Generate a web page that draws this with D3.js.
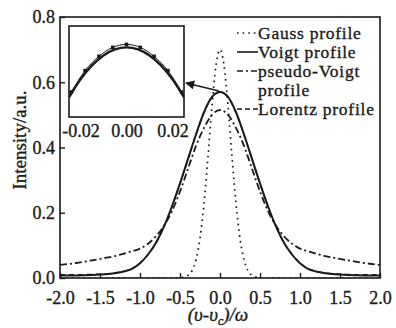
<!DOCTYPE html>
<html>
<head>
<meta charset="utf-8">
<script src="https://cdn.jsdelivr.net/npm/d3@7/dist/d3.min.js"></script>
<style>
  html, body { margin: 0; padding: 0; background: #fff; }
  svg { display: block; }
  text { font-family: "Liberation Serif", "Times New Roman", serif; fill: #1a1a1a; stroke: #1a1a1a; stroke-width: 0.35px; }
</style>
</head>
<body>
<svg id="chart" width="396" height="328"></svg>
<script>
// profiles
var xGrid = [-2.0, -1.8, -1.6, -1.4, -1.3, -1.2, -1.1, -1.0, -0.9, -0.8, -0.7, -0.6, -0.5, -0.4, -0.3, -0.2, -0.1, 0.0,
  0.1, 0.2, 0.3, 0.4, 0.5, 0.6, 0.7, 0.8, 0.9, 1.0, 1.1, 1.2, 1.3, 1.4, 1.6, 1.8, 2.0];
var voigt = [0.008, 0.008, 0.009, 0.012, 0.015, 0.020, 0.028, 0.045, 0.072, 0.108, 0.158, 0.220, 0.290, 0.365, 0.440, 0.508, 0.555, 0.570,
  0.555, 0.508, 0.440, 0.365, 0.290, 0.220, 0.158, 0.108, 0.072, 0.045, 0.028, 0.020, 0.015, 0.012, 0.009, 0.008, 0.008];
var pseudoVoigt = [0.040, 0.046, 0.054, 0.063, 0.068, 0.075, 0.082, 0.090, 0.105, 0.128, 0.160, 0.205, 0.265, 0.335, 0.405, 0.460, 0.500, 0.515,
  0.500, 0.460, 0.405, 0.335, 0.265, 0.205, 0.160, 0.128, 0.105, 0.090, 0.082, 0.075, 0.068, 0.063, 0.054, 0.046, 0.040];
var lorentz = [0.010, 0.010, 0.011, 0.013, 0.016, 0.021, 0.029, 0.046, 0.072, 0.107, 0.157, 0.219, 0.289, 0.364, 0.440, 0.507, 0.554, 0.569,
  0.554, 0.507, 0.440, 0.364, 0.289, 0.219, 0.157, 0.107, 0.072, 0.046, 0.029, 0.021, 0.016, 0.013, 0.011, 0.010, 0.010];
var gaussX = [-2.0, -1.0, -0.6, -0.5, -0.45, -0.4, -0.35, -0.3, -0.25, -0.2, -0.15, -0.1, -0.05, 0.0,
  0.05, 0.1, 0.15, 0.2, 0.25, 0.3, 0.35, 0.4, 0.45, 0.5, 0.6, 1.0, 2.0];
var gauss = [0.0, 0.0, 0.0, 0.001, 0.003, 0.008, 0.022, 0.056, 0.121, 0.228, 0.372, 0.528, 0.652, 0.700,
  0.652, 0.528, 0.372, 0.228, 0.121, 0.056, 0.022, 0.008, 0.003, 0.001, 0.0, 0.0, 0.0];

// inset: zoom on the peak
var insetX = [-0.025, -0.020, -0.015, -0.010, -0.005, 0.0, 0.005, 0.010, 0.015, 0.020, 0.025];
var insetVoigt = [0.5672, 0.56821, 0.56899, 0.56955, 0.56989, 0.5700, 0.56989, 0.56955, 0.56899, 0.56821, 0.5672];
var insetFitX = [-0.024, -0.018, -0.012, -0.006, 0.0, 0.006, 0.012, 0.018, 0.024];
var insetFit = [0.5675, 0.5687, 0.5695, 0.5700, 0.57017, 0.5700, 0.5695, 0.5687, 0.5675];

var xTicks = [-2.0, -1.5, -1.0, -0.5, 0.0, 0.5, 1.0, 1.5, 2.0];
var yTicks = [0.0, 0.2, 0.4, 0.6, 0.8];
var insetTicks = [-0.02, 0.0, 0.02];

var legendNames = ['Gauss profile', 'Voigt profile', 'pseudo-Voigt', 'Lorentz profile'];

var ink = '#1a1a1a';
var svg = d3.select('#chart');

var x = d3.scaleLinear().domain([-2, 2]).range([60, 380]);
var y = d3.scaleLinear().domain([0, 0.8]).range([278, 17]);

svg.append('defs').append('clipPath').attr('id', 'plotclip')
  .append('rect').attr('x', 60).attr('y', 17).attr('width', 320).attr('height', 261);

var line = function(xs){
  return d3.line()
    .x(function(d, i){ return x(xs[i]); })
    .y(function(d){ return y(d); })
    .curve(d3.curveMonotoneX);
};

var plot = svg.append('g').attr('clip-path', 'url(#plotclip)');

plot.append('path').datum(lorentz).attr('d', line(xGrid))
  .attr('fill', 'none').attr('stroke', ink).attr('stroke-width', 1.4).attr('stroke-dasharray', '5,4');
plot.append('path').datum(pseudoVoigt).attr('d', line(xGrid))
  .attr('fill', 'none').attr('stroke', ink).attr('stroke-width', 1.8).attr('stroke-dasharray', '7,3,2,3');
plot.append('path').datum(gauss).attr('d', line(gaussX))
  .attr('fill', 'none').attr('stroke', ink).attr('stroke-width', 1.7).attr('stroke-dasharray', '1.6,4.2');
plot.append('path').datum(voigt).attr('d', line(xGrid))
  .attr('fill', 'none').attr('stroke', ink).attr('stroke-width', 2);

// axes
var xAxis = d3.axisBottom(x).tickValues(xTicks)
  .tickFormat(function(d){ return d.toFixed(1); })
  .tickSizeInner(-5).tickSizeOuter(0).tickPadding(13);
var yAxis = d3.axisLeft(y).tickValues(yTicks)
  .tickFormat(function(d){ return d.toFixed(1); })
  .tickSizeInner(-5).tickSizeOuter(0).tickPadding(5);

var gx = svg.append('g').attr('transform', 'translate(0,278)').call(xAxis);
var gy = svg.append('g').attr('transform', 'translate(60,0)').call(yAxis);
[gx, gy].forEach(function(g){
  g.select('.domain').remove();
  g.selectAll('.tick line').attr('stroke', ink).attr('stroke-width', 1.4);
  g.selectAll('.tick text').attr('fill', ink).style('font-size', '18px')
    .style('font-family', '"Liberation Serif", serif');
});

svg.append('rect').attr('x', 60).attr('y', 17).attr('width', 320).attr('height', 261)
  .attr('fill', 'none').attr('stroke', ink).attr('stroke-width', 1.6);

// axis titles
svg.append('text').attr('transform', 'translate(26,140) rotate(-90)')
  .attr('text-anchor', 'middle').style('font-size', '19px').text('Intensity/a.u.');

var xt = svg.append('text').attr('x', 218).attr('y', 321).attr('text-anchor', 'middle')
  .style('font-size', '19px').style('font-style', 'italic');
xt.append('tspan').text('(υ-υ');
xt.append('tspan').attr('dy', 4).style('font-size', '12px').text('c');
xt.append('tspan').attr('dy', -4).text(')/ω');

// legend
var legendRows = [
  {name: legendNames[0], dash: '1.6,4', y: 33, base: 39},
  {name: legendNames[1], dash: null, y: 52, base: 58},
  {name: legendNames[2], dash: '6,3,2,3', y: 71, base: 77},
  {name: legendNames[3], dash: '5,3', y: 109, base: 115}
];
var lg = svg.append('g').style('font-size', '17.5px').style('letter-spacing', '0.75px');
legendRows.forEach(function(r){
  lg.append('line').attr('x1', 237).attr('x2', 258).attr('y1', r.y).attr('y2', r.y)
    .attr('stroke', ink).attr('stroke-width', 1.6).attr('stroke-dasharray', r.dash);
  lg.append('text').attr('x', 258).attr('y', r.base).text(r.name);
});
lg.append('text').attr('x', 258).attr('y', 96).text('profile');

// inset
var ix = d3.scaleLinear().domain([-0.025, 0.025]).range([69, 184]);
var iy = d3.scaleLinear().domain([0.5661, 0.5712]).range([117, 26]);

svg.select('defs').append('clipPath').attr('id', 'insetclip')
  .append('rect').attr('x', 69).attr('y', 26).attr('width', 115).attr('height', 91);
svg.append('rect').attr('x', 69).attr('y', 26).attr('width', 115).attr('height', 91)
  .attr('fill', '#fff');

var inset = svg.append('g').attr('clip-path', 'url(#insetclip)');
inset.append('path').datum(insetFit)
  .attr('d', d3.line().x(function(d, i){ return ix(insetFitX[i]); }).y(function(d){ return iy(d); }).curve(d3.curveMonotoneX))
  .attr('fill', 'none').attr('stroke', ink).attr('stroke-width', 1);
inset.selectAll('.mk').data(insetFit).enter().append('rect')
  .attr('x', function(d, i){ return ix(insetFitX[i]) - 1.8; })
  .attr('y', function(d){ return iy(d) - 1.8; })
  .attr('width', 3.6).attr('height', 3.6).attr('fill', ink);
inset.append('path').datum(insetVoigt)
  .attr('d', d3.line().x(function(d, i){ return ix(insetX[i]); }).y(function(d){ return iy(d); }).curve(d3.curveMonotoneX))
  .attr('fill', 'none').attr('stroke', ink).attr('stroke-width', 2.4);

svg.append('rect').attr('x', 69).attr('y', 26).attr('width', 115).attr('height', 91)
  .attr('fill', 'none').attr('stroke', ink).attr('stroke-width', 1.6);

var gi = svg.append('g').attr('transform', 'translate(0,117)')
  .call(d3.axisBottom(ix).tickValues(insetTicks).tickFormat(function(d){ return d.toFixed(2); })
    .tickSize(0).tickPadding(7));
gi.select('.domain').remove();
gi.selectAll('.tick text').attr('fill', ink).style('font-size', '18px')
  .style('font-family', '"Liberation Serif", serif');

// arrow from the peak to the inset
svg.select('defs').append('marker').attr('id', 'head')
  .attr('viewBox', '0 0 10 10').attr('refX', 9).attr('refY', 5)
  .attr('markerWidth', 10).attr('markerHeight', 9).attr('markerUnits', 'userSpaceOnUse')
  .attr('orient', 'auto')
  .append('path').attr('d', 'M0,0 L10,5 L0,10 Z').attr('fill', ink);
svg.append('line')
  .attr('x1', x(0) - 1).attr('y1', y(voigt[17]) - 1)
  .attr('x2', 186).attr('y2', 83)
  .attr('stroke', ink).attr('stroke-width', 1.4).attr('marker-end', 'url(#head)');
</script>
</body>
</html>
